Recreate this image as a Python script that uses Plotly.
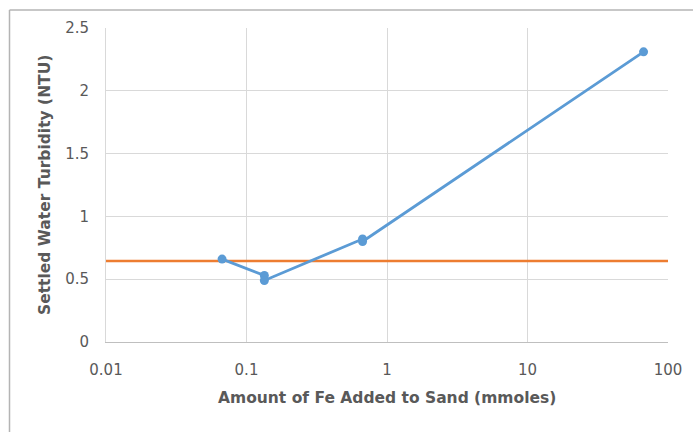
import plotly.graph_objects as go

fe_mmoles = [0.067, 0.134, 0.134, 0.67, 0.67, 67]
turbidity = [0.66, 0.53, 0.49, 0.82, 0.80, 2.31]
threshold = 0.645
x_range = [0.01, 100]
x_ticks = [0.01, 0.1, 1, 10, 100]
x_ticktext = ["0.01", "0.1", "1", "10", "100"]
y_ticks = [0, 0.5, 1, 1.5, 2, 2.5]
y_ticktext = ["0", "0.5", "1", "1.5", "2", "2.5"]
x_title = "Amount of Fe Added to Sand (mmoles)"
y_title = "Settled Water Turbidity (NTU)"

blue = "#5b9bd5"
orange = "#ed7d31"
font_fam = "'DejaVu Sans', sans-serif"
txt = "#595959"

L, R, T, B = 106, 25, 28, 90
W, H = 693, 432
pw, ph = W - L - R, H - T - B

def px(xp):
    return (xp - L) / pw

def py(yp):
    return (H - B - yp) / ph

border = dict(color="#b4b4b4", width=1.5)

fig = go.Figure()
fig.add_trace(go.Scatter(
    x=x_range, y=[threshold, threshold], mode="lines",
    line=dict(color=orange, width=2.5), showlegend=False, hoverinfo="skip"))
fig.add_trace(go.Scatter(
    x=fe_mmoles, y=turbidity, mode="lines+markers",
    line=dict(color=blue, width=2.8),
    marker=dict(color=blue, size=9), showlegend=False))

fig.update_layout(
    width=W, height=H,
    margin=dict(l=L, r=R, t=T, b=B, autoexpand=False),
    paper_bgcolor="white", plot_bgcolor="white",
    font=dict(family=font_fam, color=txt, size=14),
    shapes=[
        dict(type="line", xref="paper", yref="paper",
             x0=px(9.5), x1=px(W + 5), y0=py(10), y1=py(10), line=border, layer="below"),
        dict(type="line", xref="paper", yref="paper",
             x0=px(9.5), x1=px(9.5), y0=py(10), y1=py(H + 5), line=border, layer="below"),
    ],
    annotations=[
        dict(text="<b>" + x_title + "</b>", xref="paper", yref="paper",
             x=0.5, y=py(398), showarrow=False, xanchor="center", yanchor="middle",
             font=dict(size=15.5, color=txt, family=font_fam)),
        dict(text="<b>" + y_title + "</b>", xref="paper", yref="paper",
             x=px(45), y=0.5, showarrow=False, xanchor="center", yanchor="middle",
             textangle=-90, font=dict(size=15.5, color=txt, family=font_fam)),
    ],
)
fig.update_xaxes(
    type="log", range=[-2, 2], tickvals=x_ticks, ticktext=x_ticktext,
    showgrid=True, gridcolor="#d9d9d9", gridwidth=1,
    showline=True, linecolor="#bfbfbf",
    zeroline=False, ticks="outside", ticklen=14, tickcolor="rgba(0,0,0,0)",
    tickfont=dict(size=15, color=txt), automargin=False,
)
fig.update_yaxes(
    range=[0, 2.5], tickvals=y_ticks, ticktext=y_ticktext,
    showgrid=True, gridcolor="#d9d9d9", gridwidth=1,
    showline=True, linecolor="#d9d9d9",
    zeroline=False, ticks="outside", ticklen=13, tickcolor="rgba(0,0,0,0)",
    tickfont=dict(size=15, color=txt), automargin=False,
)
fig.write_html("out.html", config={"displayModeBar": False},
               post_script="document.body.style.margin='0';document.body.style.overflow='hidden';")
